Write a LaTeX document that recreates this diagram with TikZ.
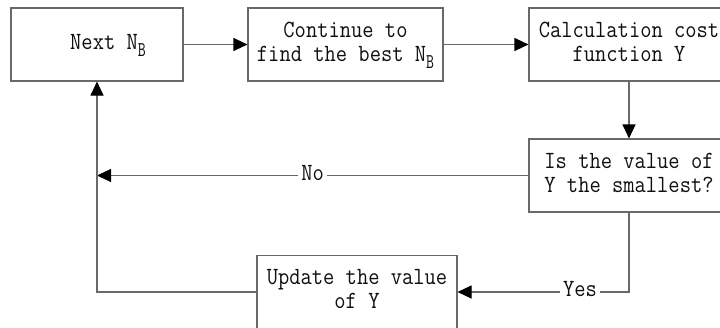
\documentclass[tikz,border=0pt]{standalone}
\usetikzlibrary{arrows.meta}
\definecolor{linegray}{RGB}{105,105,105}
\definecolor{inkcol}{RGB}{15,15,15}
\newcommand{\boxfont}{\ttfamily\fontsize{21.9}{21.3}\selectfont}
% subscript B: narrow and lowered
\newcommand{\subB}{\raisebox{-6.5pt}{\scalebox{0.7}[0.85]{B}}}
% text block stretched slightly upward
\newcommand{\tall}[1]{\scalebox{1}[1.13]{\begin{tabular}{@{}c@{}}#1\end{tabular}}}
\tikzset{
  box/.style={draw=linegray, line width=1.1pt, minimum width=#1,
    minimum height=73pt, inner sep=0pt, align=center, text=inkcol,
    font=\boxfont},
  flow/.style={draw=linegray, line width=1.1pt,
    -{Triangle[length=14pt,width=13pt,black]}},
  tag/.style={fill=white, inner sep=3pt, text=inkcol, font=\boxfont}
}
\renewcommand{\arraystretch}{1}
\begin{document}
\begin{tikzpicture}[x=1pt,y=-1pt]
  \useasboundingbox (0,0) rectangle (720,327);
  \fill[white] (0,0) rectangle (720,327);
  \clip (0,0) rectangle (720,327);

  % process boxes
  \node[box=172pt] (next) at (97,44.5) {\hspace*{22pt}\tall{Next N\subB}};
  \node[box=195pt] (cont) at (345.5,44.5) {\tall{Continue to\\find the best N\subB}};
  \node[box=200pt] (calc) at (629,44.5) {\tall{Calculation cost\\function Y}};
  \node[box=200pt] (test) at (629,175.5) {\tall{Is the value of\\Y the smallest?}};
  \node[box=200pt] (upd)  at (357,292) {\tall{Update the value\\of Y}};

  % return column on the left
  \coordinate (ret) at (97,175.5);

  % connectors
  \draw[flow] (next.east) -- (cont.west);
  \draw[flow] (cont.east) -- (calc.west);
  \draw[flow] (calc.south) -- (test.north);
  \draw[flow] (test.west) -- node[tag, pos=0.5] {\tall{No}} (ret);
  \draw[flow] (test.south) |- node[tag, pos=0.643] {\tall{Yes}} (upd.east);
  \draw[flow] (upd.west) -| (next.south);
\end{tikzpicture}
\end{document}
